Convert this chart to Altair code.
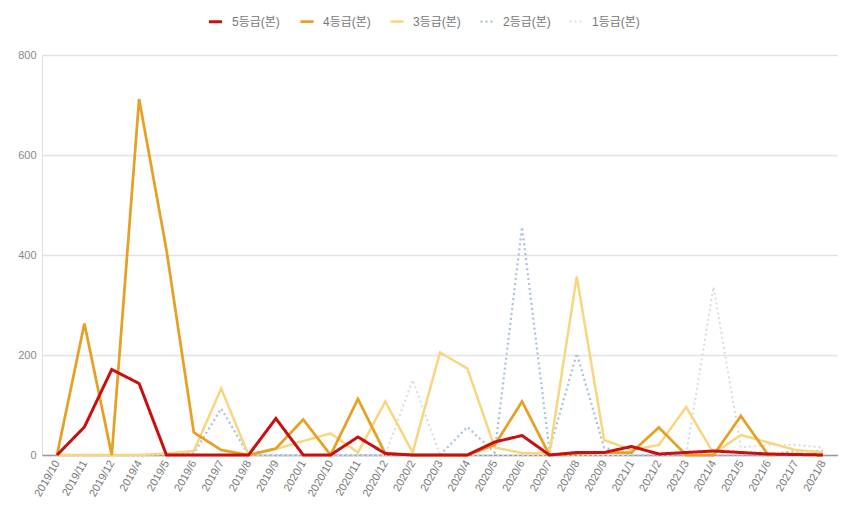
import altair as alt
import pandas as pd

months = ["2019/10","2019/11","2019/12","2019/4","2019/5","2019/6","2019/7","2019/8","2019/9",
          "2020/1","2020/10","2020/11","2020/12","2020/2","2020/3","2020/4","2020/5","2020/6",
          "2020/7","2020/8","2020/9","2021/1","2021/2","2021/3","2021/4","2021/5","2021/6",
          "2021/7","2021/8"]

grade5 = [0,56,171,143,0,0,0,0,73,0,0,36,3,0,0,0,26,39,0,5,5,17,2,5,8,5,2,1,0]
grade4 = [0,263,0,712,410,45,10,0,13,71,0,112,3,0,0,0,20,107,0,3,5,5,55,0,0,78,0,2,0]
grade3 = [0,0,0,0,3,8,133,0,12,28,43,5,107,5,205,173,15,4,3,357,30,10,20,96,3,40,25,10,5]
grade2 = [0,0,0,0,0,3,93,0,0,0,0,0,0,0,0,56,5,456,10,203,15,0,0,0,0,0,0,8,8]
grade1 = [0,0,0,0,0,0,0,0,0,0,0,0,0,150,0,0,0,0,0,0,0,0,0,0,336,15,20,20,15]

series_names = ["5등급(본)", "4등급(본)", "3등급(본)", "2등급(본)", "1등급(본)"]
series_vals = [grade5, grade4, grade3, grade2, grade1]
colors = ["#c81010", "#e6a023", "#f8d67f", "#abc0de", "#d6dce5"]
dashes = [[1, 0], [1, 0], [1, 0], [2, 3], [2, 3]]
widths = [3, 2, 2, 1.5, 1.5]

rows = []
for name, vals in zip(series_names, series_vals):
    for m, v in zip(months, vals):
        rows.append({"month": m, "value": v, "grade": name})
df = pd.DataFrame(rows)

FONT = "Liberation Sans, Arial, Noto Sans CJK KR"

x = alt.X("month:N", sort=months,
          scale=alt.Scale(type="point", padding=0.55),
          axis=alt.Axis(title=None, labelAngle=-60, labelColor="#777777", labelFontSize=11,
                        labelFont=FONT, ticks=False, domainColor="#9a9a9a", domainWidth=1.5,
                        labelPadding=6, grid=False, labelOverlap=False))
y = alt.Y("value:Q",
          scale=alt.Scale(domain=[0, 800], nice=False),
          axis=alt.Axis(title=None, values=[0, 200, 400, 600, 800], labelColor="#888888",
                        labelFontSize=11, labelFont=FONT, ticks=False, domain=False,
                        gridColor="#e3e3e3", gridWidth=1.5, labelPadding=6))

color = alt.Color("grade:N", scale=alt.Scale(domain=series_names, range=colors),
                  legend=alt.Legend(title=None, orient="none", legendX=165, legendY=-42,
                                    direction="horizontal", symbolType="stroke",
                                    symbolSize=170, labelFontSize=12, labelColor="#777777",
                                    labelFont=FONT, columnPadding=14, labelOffset=8))
dash = alt.StrokeDash("grade:N", scale=alt.Scale(domain=series_names, range=dashes))
sw = alt.StrokeWidth("grade:N", scale=alt.Scale(domain=series_names, range=widths))

layers = []
for name in reversed(series_names):
    layers.append(
        alt.Chart(df).transform_filter(alt.datum.grade == name)
        .mark_line(interpolate="linear")
        .encode(x=x, y=y, color=color, strokeDash=dash, strokeWidth=sw)
    )

chart = alt.layer(*layers).properties(
    width=796, height=400,
    autosize=alt.AutoSizeParams(type="none"),
    padding={"left": 34, "top": 47, "right": 0, "bottom": 50},
).configure_view(strokeWidth=0, stroke="transparent").configure(background="white")

chart.save("out.html", embed_options={"renderer": "svg", "actions": False})
